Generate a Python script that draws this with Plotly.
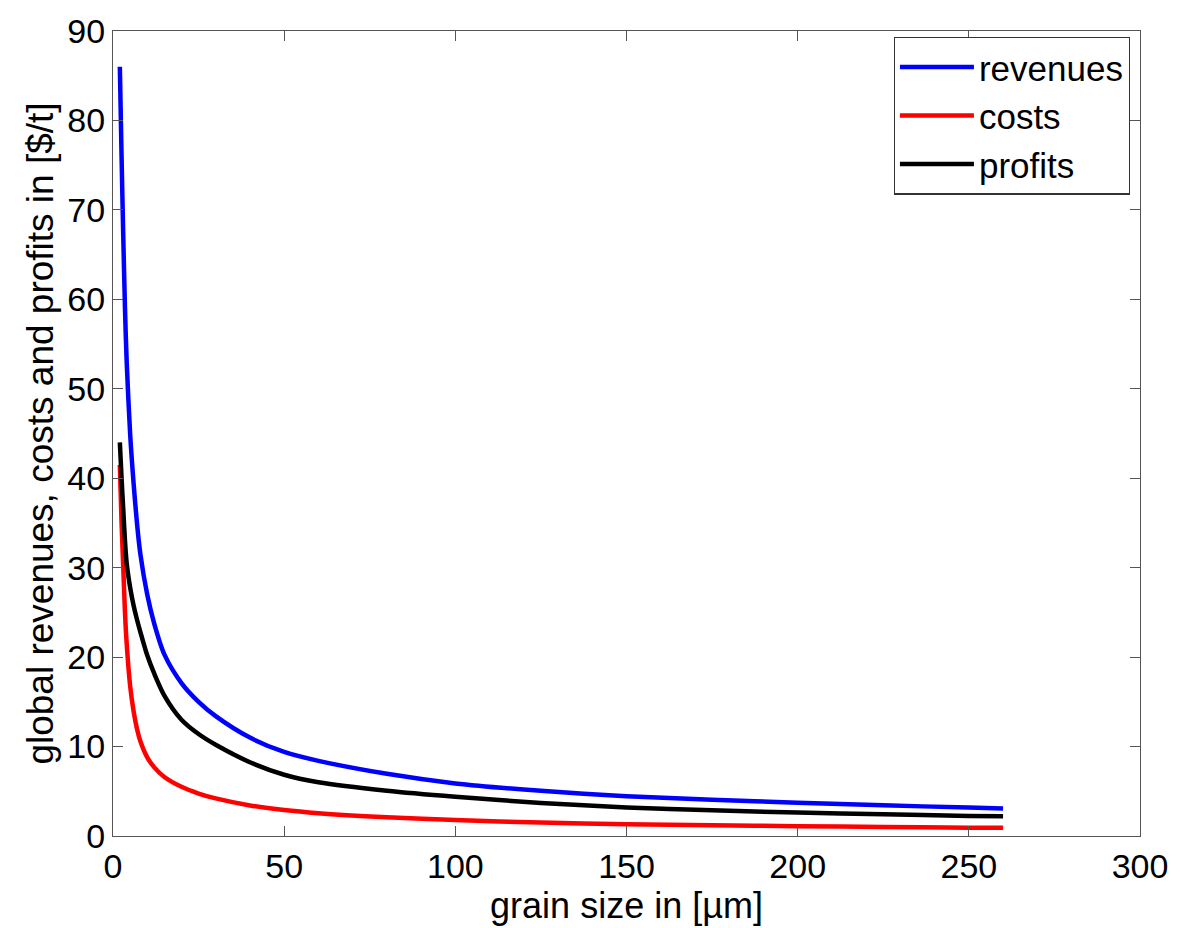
import plotly.graph_objects as go

grain_size = [2, 2.5, 3, 3.5, 4, 5, 6, 7, 8, 10, 12, 15, 20, 25, 30, 40, 50, 60, 80, 100, 125, 150, 175, 200, 225, 250, 260]
revenues = [86, 76, 67, 59, 53, 45, 39.5, 35, 31.5, 27, 23.8, 20.3, 17.1, 15.0, 13.4, 11.0, 9.4, 8.4, 6.95, 5.88, 5.05, 4.45, 4.05, 3.72, 3.43, 3.18, 3.08]
costs = [41.5, 35, 30, 25, 21.5, 16.8, 14, 12, 10.6, 8.8, 7.7, 6.6, 5.5, 4.75, 4.2, 3.42, 2.9, 2.55, 2.1, 1.78, 1.5, 1.31, 1.19, 1.1, 1.0, 0.93, 0.92]
profits = [44, 40, 36.5, 33, 30.5, 27.8, 25.8, 24.2, 22.8, 20.2, 18.2, 15.7, 13.0, 11.4, 10.2, 8.25, 6.85, 6.0, 5.05, 4.38, 3.7, 3.2, 2.88, 2.62, 2.42, 2.25, 2.2]

x_ticks = [0, 50, 100, 150, 200, 250, 300]
y_ticks = [0, 10, 20, 30, 40, 50, 60, 70, 80, 90]

FONT = "Liberation Sans, Arial, sans-serif"

fig = go.Figure()
fig.add_trace(go.Scatter(x=grain_size, y=revenues, mode="lines", name="revenues",
                         line=dict(color="#0000ff", width=4.5, shape="spline", smoothing=0.8)))
fig.add_trace(go.Scatter(x=grain_size, y=costs, mode="lines", name="costs",
                         line=dict(color="#ff0000", width=4.5, shape="spline", smoothing=0.8)))
fig.add_trace(go.Scatter(x=grain_size, y=profits, mode="lines", name="profits",
                         line=dict(color="#000000", width=4.5, shape="spline", smoothing=0.8)))

axis_common = dict(
    showgrid=False, zeroline=False, showline=True, linecolor="#555555", linewidth=1.2,
    mirror="ticks", ticks="inside", ticklen=10, tickcolor="#555555", tickwidth=1.2,
    tickfont=dict(family=FONT, size=34, color="black"),
)

fig.update_layout(
    width=1180, height=928,
    margin=dict(l=113, r=37, t=24, b=92),
    paper_bgcolor="white", plot_bgcolor="white",
    font=dict(family=FONT, color="black"),
    xaxis=dict(range=[0, 300], tickvals=x_ticks, ticktext=[str(v) for v in x_ticks],
               title=dict(text="grain size in [µm]", font=dict(family=FONT, size=36), standoff=2),
               **axis_common),
    yaxis=dict(range=[0, 90], tickvals=y_ticks, ticktext=[str(v) for v in y_ticks],
               title=dict(text="global revenues, costs and profits in [$/t]", font=dict(family=FONT, size=37), standoff=2),
               **axis_common),
    legend=dict(x=0.990, y=0.993, xanchor="right", yanchor="top",
                bgcolor="white", bordercolor="#333333", borderwidth=1.2,
                font=dict(family=FONT, size=35, color="black"),
                itemwidth=74, tracegroupgap=0),
    showlegend=True,
)

fig.write_html("out.html")
